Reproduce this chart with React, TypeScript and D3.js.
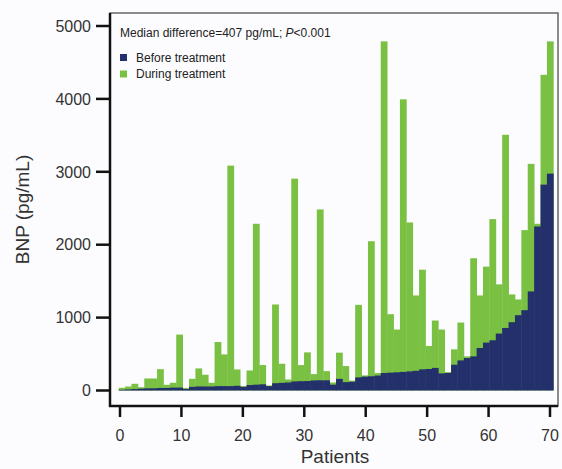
import * as d3 from 'd3';

// BNP per patient (pg/mL), patients ordered by value before treatment
const beforeTreatment = [
  10, 15, 20, 25, 30, 30, 35, 35, 40, 40,
  20, 50, 55, 55, 55, 60, 60, 60, 65, 50,
  75, 80, 85, 60, 100, 105, 110, 125, 128, 130,
  138, 140, 140, 80, 160, 115, 120, 180, 190, 195,
  205, 240, 245, 250, 255, 262, 270, 290, 295, 310,
  235, 240, 354, 413, 445, 468, 583, 657, 689, 781,
  858, 937, 1033, 1102, 1359, 2250, 2824, 2975,
];

const duringTreatment = [
  37, 55, 92, 45, 165, 165, 293, 78, 106, 767,
  35, 160, 303, 216, 106, 665, 495, 3085, 289, 60,
  275, 2287, 349, 69, 1180, 367, 151, 2906, 349, 523,
  225, 2484, 266, 110, 519, 335, 135, 1175, 207, 2048,
  239, 4789, 1047, 836, 3994, 2305, 1304, 1657, 611, 960,
  836, 253, 565, 932, 468, 1814, 1304, 1699, 2351, 1456,
  3508, 1318, 1249, 2200, 3109, 2287, 4330, 4789,
];

const xTicks = [0, 10, 20, 30, 40, 50, 60, 70];
const yTicks = [0, 1000, 2000, 3000, 4000, 5000];

const NAVY = '#24306b';
const GREEN = '#7ac143';
const FONT = '"Liberation Sans", Arial, sans-serif';

export default function App() {
  const width = 562;
  const height = 469;
  const frame = { left: 110, right: 558, top: 13, bottom: 406 };

  const ids = beforeTreatment.map((_, i) => String(i + 1));
  const xBand = d3.scaleBand<string>().domain(ids).range([118.7, 553.3]).padding(0);
  const xAxis = d3.scaleLinear().domain([0, 70]).range([120, 550]);
  const y = d3.scaleLinear().domain([0, 5000]).range([390.5, 26]);

  return (
    <svg
      width={width}
      height={height}
      style={{ position: 'fixed', left: 0, top: 0, background: '#fcfcfe' }}
      fontFamily={FONT}
    >
      <rect x={0} y={0} width={width} height={height} fill="#fcfcfe" />

      {/* frame */}
      <rect
        x={frame.left}
        y={frame.top}
        width={frame.right - frame.left}
        height={frame.bottom - frame.top}
        fill="none"
        stroke="#666"
        strokeWidth={1.5}
      />

      {/* during treatment behind, before treatment on top */}
      {duringTreatment.map((v, i) => (
        <rect
          key={'g' + i}
          x={xBand(ids[i])}
          y={y(v)}
          width={xBand.bandwidth() + 0.4}
          height={y(0) - y(v)}
          fill={GREEN}
        />
      ))}
      {beforeTreatment.map((v, i) => (
        <rect
          key={'b' + i}
          x={xBand(ids[i])}
          y={y(v)}
          width={xBand.bandwidth() + 0.4}
          height={y(0) - y(v)}
          fill={NAVY}
        />
      ))}

      {/* axes */}
      <line x1={frame.left} x2={frame.left} y1={frame.top} y2={frame.bottom + 1} stroke="#111" strokeWidth={2.5} />
      <line x1={frame.left - 1} x2={frame.right} y1={frame.bottom} y2={frame.bottom} stroke="#111" strokeWidth={2.5} />

      {yTicks.map(t => (
        <g key={'y' + t}>
          <line x1={frame.left - 14} x2={frame.left} y1={y(t)} y2={y(t)} stroke="#111" strokeWidth={2.5} />
          <text x={frame.left - 19} y={y(t)} dy="0.36em" textAnchor="end" fontSize={16} fill="#333">
            {t}
          </text>
        </g>
      ))}

      {xTicks.map(t => (
        <g key={'x' + t}>
          <line x1={xAxis(t)} x2={xAxis(t)} y1={frame.bottom} y2={frame.bottom + 11} stroke="#111" strokeWidth={2.5} />
          <text x={xAxis(t)} y={441} textAnchor="middle" fontSize={16} fill="#333">
            {t}
          </text>
        </g>
      ))}

      <text x={335} y={463} textAnchor="middle" fontSize={19} fill="#333">
        Patients
      </text>
      <text
        transform={`translate(29,${(frame.top + frame.bottom) / 2}) rotate(-90)`}
        textAnchor="middle"
        fontSize={19}
        fill="#333"
      >
        BNP (pg/mL)
      </text>

      {/* annotation + legend */}
      <text x={120} y={37} fontSize={12} fill="#222">
        Median difference=407 pg/mL; <tspan fontStyle="italic">P</tspan>&lt;0.001
      </text>
      <rect x={120} y={54} width={7} height={7} fill={NAVY} />
      <text x={136} y={61.5} fontSize={12} fill="#222">Before treatment</text>
      <rect x={120} y={70.5} width={7} height={7} fill={GREEN} />
      <text x={136} y={78} fontSize={12} fill="#222">During treatment</text>
    </svg>
  );
}
